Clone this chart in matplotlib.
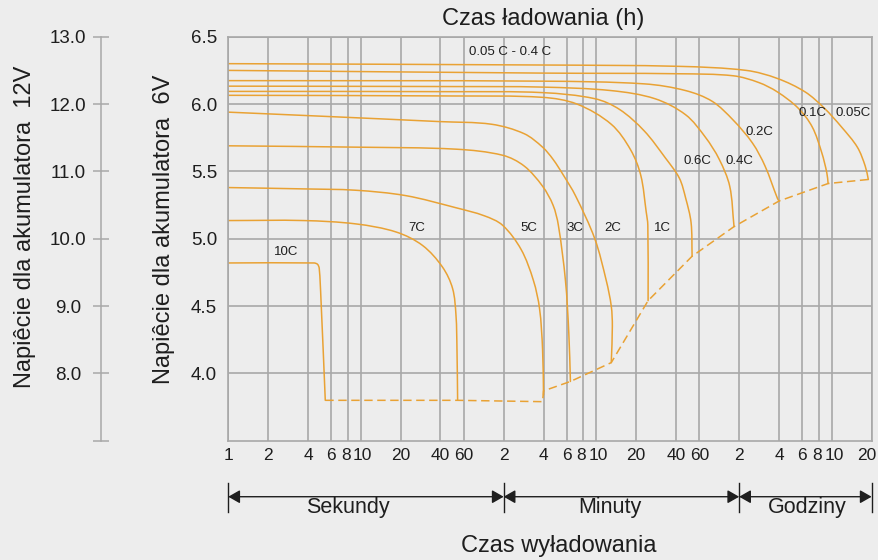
import numpy as np
import matplotlib
matplotlib.use("Agg")
import matplotlib.pyplot as plt
from matplotlib.ticker import NullLocator
from matplotlib.transforms import blended_transform_factory, ScaledTranslation
from matplotlib.path import Path
from matplotlib.patches import PathPatch

plt.rcParams['font.family'] = ['Liberation Sans', 'DejaVu Sans']

# x axis: discharge time in seconds (1 s ... 20 h)
xtick_sec = [1, 2, 4, 6, 8, 10, 20, 40, 60,
             120, 240, 360, 480, 600, 1200, 2400, 3600,
             7200, 14400, 21600, 28800, 36000, 72000]
xtick_lab = ['1', '2', '4', '6', '8', '10', '20', '40', '60',
             '2', '4', '6', '8', '10', '20', '40', '60',
             '2', '4', '6', '8', '10', '20']

v6_ticks = [4.0, 4.5, 5.0, 5.5, 6.0, 6.5]
v6_labels = ['4.0', '4.5', '5.0', '5.5', '6.0', '6.5']
v12_ticks = [7, 8, 9, 10, 11, 12, 13]
v12_labels = ['', '8.0', '9.0', '10.0', '11.0', '12.0', '13.0']

# discharge curves (time [s], voltage [V] for 6V battery)
t_10c = [1, 4.43, 4.72, 4.86, 5.01, 5.40]
v_10c = [4.82, 4.82, 4.81, 4.78, 4.55, 3.80]

t_7c = [1, 3.7, 9.2, 18.5, 29.3, 41.4, 49.4, 52.4, 53.3, 53.9]
v_7c = [5.135, 5.135, 5.11, 5.05, 4.95, 4.79, 4.63, 4.43, 4.18, 3.80]

t_5c = [1, 3.7, 9.2, 21.9, 52.4, 85.9, 117.8, 162.6, 201.3, 224, 236, 240]
v_5c = [5.38, 5.37, 5.36, 5.32, 5.23, 5.17, 5.10, 4.92, 4.69, 4.48, 4.18, 3.84]

t_3c = [1, 9.2, 52.4, 117.8, 171.4, 236, 283, 310.6, 351.3, 372.4, 383]
v_3c = [5.69, 5.68, 5.665, 5.62, 5.54, 5.39, 5.25, 5.10, 4.69, 4.30, 3.94]

t_2c = [1, 5.0, 39.1, 97.5, 171.4, 236, 283, 340, 418, 585, 714, 779, 794, 779]
v_2c = [5.94, 5.91, 5.87, 5.85, 5.78, 5.68, 5.59, 5.47, 5.32, 5.0, 4.69, 4.50, 4.35, 4.08]

t_1c = [1, 52, 236, 429.5, 779, 1091, 1302, 1430, 1471, 1478]
v_1c = [6.065, 6.06, 6.05, 6.0, 5.85, 5.66, 5.47, 5.2, 5.1, 4.54]

t_06c = [1, 52, 236, 585, 900, 1384, 1996, 2545, 2843, 3120, 3177]
v_06c = [6.094, 6.092, 6.085, 6.04, 5.96, 5.80, 5.60, 5.45, 5.30, 5.12, 4.87]

t_04c = [1, 52, 236, 779, 1663, 2843, 3993, 5089, 6109, 6585]
v_04c = [6.133, 6.13, 6.126, 6.10, 6.04, 5.92, 5.755, 5.59, 5.39, 5.09]

t_02c = [1, 236, 1384, 2843, 4511, 6503, 9080, 11285, 14000, 14400]
v_02c = [6.174, 6.17, 6.15, 6.10, 6.02, 5.88, 5.71, 5.54, 5.30, 5.28]

t_01c = [1, 236, 2545, 6503, 10115, 14000, 20070, 25650, 30240, 33030, 33800]
v_01c = [6.25, 6.23, 6.225, 6.21, 6.16, 6.09, 5.97, 5.83, 5.64, 5.49, 5.41]

t_005c = [1, 236, 2545, 8150, 14000, 22680, 31600, 42640, 56180, 64400, 68000]
v_005c = [6.30, 6.29, 6.28, 6.25, 6.19, 6.09, 5.97, 5.83, 5.68, 5.54, 5.44]

# end-of-discharge (dashed) line
t_end = [5.40, 53.9, 236, 240, 383, 779, 1478, 3177, 6585, 14400, 33800, 68000, 72000]
v_end = [3.80, 3.80, 3.79, 3.87, 3.94, 4.08, 4.54, 4.87, 5.09, 5.28, 5.41, 5.44, 5.44]

lab_text = ['0.05 C - 0.4 C', '0.05C', '0.1C', '0.2C', '0.6C', '0.4C',
            '10C', '7C', '5C', '3C', '2C', '1C']
lab_t = [135, 52360, 25760, 10320, 3460, 7180, 2.75, 26.4, 186, 413, 800, 1901]
lab_v = [6.385, 5.934, 5.934, 5.79, 5.576, 5.576, 4.90, 5.08, 5.08, 5.08, 5.08, 5.08]

region_text = ['Sekundy', 'Minuty', 'Godziny']
region_t = [8.0, 767, 23440]
region_bounds = [1, 120, 7200, 72000]

bg = '#ededed'
grid_c = '#a8a8a8'
orange = '#e9a234'
txt = '#1e1e1e'


def smooth_path(t, v):
    # chord-length Catmull-Rom curve through the points, in (log t, v) space
    pts = np.column_stack([np.log10(t), v])
    n = len(pts)
    d = np.hypot(*np.diff(pts, axis=0).T)
    verts = [pts[0]]
    codes = [Path.MOVETO]
    for i in range(n - 1):
        p1, p2 = pts[i], pts[i + 1]
        if i > 0:
            c1 = p1 + (p2 - pts[i - 1]) * d[i] / (3 * (d[i - 1] + d[i]))
        else:
            c1 = p1 + (p2 - p1) / 3
        if i < n - 2:
            c2 = p2 - (pts[i + 2] - p1) * d[i] / (3 * (d[i] + d[i + 1]))
        else:
            c2 = p2 - (p2 - p1) / 3
        verts += [c1, c2, p2]
        codes += [Path.CURVE4] * 3
    verts = np.array(verts)
    verts[:, 0] = 10 ** verts[:, 0]
    return Path(verts, codes)


fig = plt.figure(figsize=(8.79, 5.6), dpi=100)
fig.patch.set_facecolor(bg)

ax = fig.add_axes([0.2597, 0.2130, 0.7319, 0.7214])
ax.set_facecolor(bg)
ax.set_xscale('log')

curves = [(t_10c, v_10c), (t_7c, v_7c), (t_5c, v_5c), (t_3c, v_3c), (t_2c, v_2c),
          (t_1c, v_1c), (t_06c, v_06c), (t_04c, v_04c), (t_02c, v_02c),
          (t_01c, v_01c), (t_005c, v_005c)]
for t, v in curves:
    ax.add_patch(PathPatch(smooth_path(t, v), fill=False, edgecolor=orange, lw=1.1,
                           joinstyle='round', capstyle='round'))
ax.plot(t_end, v_end, color=orange, lw=1.1, ls=(0, (5.5, 3)))

for s, t, v in zip(lab_text, lab_t, lab_v):
    ax.text(t, v, s, ha='center', va='center', fontsize=9.5, color=txt)

ax.set_xticks(xtick_sec, xtick_lab)
ax.xaxis.set_minor_locator(NullLocator())
ax.set_yticks(v6_ticks, v6_labels)
ax.tick_params(axis='x', length=0, pad=5, labelsize=12.5, labelcolor=txt)
ax.tick_params(axis='y', length=0, pad=8, labelsize=13.5, labelcolor=txt)
ax.grid(True, color=grid_c, lw=1.2)
ax.set_axisbelow(True)
for sp in ax.spines.values():
    sp.set_color(grid_c)
    sp.set_linewidth(1.2)

# nudge crowded labels apart, pull the last one inside the figure
ticks = ax.xaxis.get_major_ticks()
for i, (tick, lab) in enumerate(zip(ticks, xtick_lab)):
    dx = {'8': -1.5, '10': 1.5}.get(lab, 0)
    if i == len(xtick_lab) - 1:
        dx = -3.5
    if dx:
        tick.label1.set_transform(tick.label1.get_transform() +
                                  ScaledTranslation(dx / 72, 0, fig.dpi_scale_trans))

# 12V scale on the far left
ax2 = fig.add_axes([100.7 / 879, 0.2130, 0.0001, 0.7214])
ax2.patch.set_visible(False)
ax2.set_ylim(7, 13)
ax2.set_xticks([])
ax2.set_yticks(v12_ticks, v12_labels)
ax2.tick_params(axis='y', direction='inout', length=12, width=1.1, color=grid_c,
                pad=17.5, labelsize=13.5, labelcolor=txt)
for l in ax2.get_yticklabels():
    l.set_ha('center')
for k in ['top', 'right', 'bottom']:
    ax2.spines[k].set_visible(False)
ax2.spines['left'].set_color(grid_c)
ax2.spines['left'].set_linewidth(1.1)

# time-range arrows below the axis
trans = blended_transform_factory(ax.transData, fig.transFigure)
for b in region_bounds:
    ax.plot([b, b], [0.0863, 0.137], transform=trans, color=txt, lw=1, clip_on=False)
for a, b in zip(region_bounds[:-1], region_bounds[1:]):
    ax.annotate('', xy=(b, 0.113), xytext=(a, 0.113), xycoords=trans, textcoords=trans,
                arrowprops=dict(arrowstyle='<|-|>,head_length=0.7,head_width=0.4',
                                color=txt, lw=1, shrinkA=0, shrinkB=0, mutation_scale=10),
                annotation_clip=False)
for s, t in zip(region_text, region_t):
    ax.text(t, 0.0845, s, transform=trans, ha='center', va='baseline', fontsize=15.5, color=txt)

ax.set_xlim(1, 72000)
ax.set_ylim(3.5, 6.5)

fig.text(543.3 / 879, 1 - 25 / 560, 'Czas ładowania (h)', ha='center', va='baseline',
         fontsize=17, color=txt)
fig.text(558.3 / 879, 1 - 551.7 / 560, 'Czas wyładowania', ha='center', va='baseline',
         fontsize=17, color=txt)
fig.text(25.4 / 879, 0.5955, 'Napiêcie dla akumulatora  12V', rotation=90,
         ha='center', va='center', fontsize=17, color=txt)
fig.text(164.5 / 879, 0.591, 'Napiêcie dla akumulatora  6V', rotation=90,
         ha='center', va='center', fontsize=17, color=txt)

fig.savefig('out.png', dpi=100, facecolor=bg)
